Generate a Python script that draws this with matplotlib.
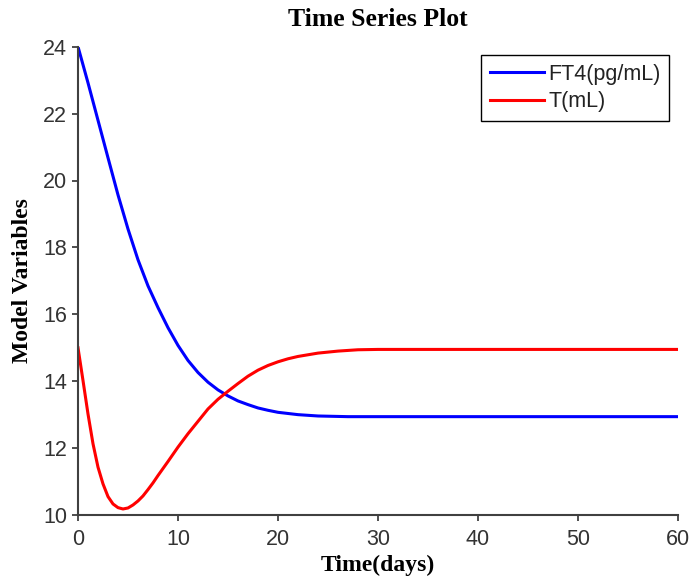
import matplotlib
matplotlib.use("Agg")
import matplotlib.pyplot as plt

# Data
t_ft4 = [0, 1, 2, 3, 4, 5, 6, 7, 8, 9, 10, 11, 12, 13, 14, 15, 16, 17, 18, 19, 20, 22, 24, 27, 30, 40, 50, 60]
ft4 = [24.0, 22.92, 21.8, 20.68, 19.57, 18.55, 17.63, 16.85, 16.2, 15.6, 15.07, 14.62, 14.26, 13.97, 13.74,
       13.56, 13.41, 13.3, 13.2, 13.13, 13.07, 13.0, 12.96, 12.94, 12.94, 12.94, 12.94, 12.94]

t_t = [0, 0.5, 1, 1.5, 2, 2.5, 3, 3.5, 4, 4.5, 5, 5.5, 6, 6.5, 7, 7.5, 8, 9, 10, 11, 12, 13, 14, 15, 16,
       17, 18, 19, 20, 21, 22, 24, 26, 28, 30, 40, 50, 60]
tvol = [15.0, 14.02, 13.02, 12.13, 11.43, 10.93, 10.55, 10.33, 10.22, 10.18, 10.21, 10.3, 10.42, 10.57,
        10.76, 10.96, 11.18, 11.6, 12.03, 12.43, 12.8, 13.17, 13.46, 13.7, 13.93, 14.15, 14.33, 14.47,
        14.58, 14.67, 14.74, 14.84, 14.9, 14.94, 14.95, 14.95, 14.95, 14.95]

series_labels = ["FT4(pg/mL)", "T(mL)"]
x_ticks = [0, 10, 20, 30, 40, 50, 60]
y_ticks = [10, 12, 14, 16, 18, 20, 22, 24]

fig = plt.figure(figsize=(6.91, 5.79), dpi=100)
ax = fig.add_axes([78 / 691, 1 - 515 / 579, 600 / 691, (515 - 46.7) / 579])

ax.plot(t_ft4, ft4, color="#0000ff", lw=2.2, label=series_labels[0], solid_joinstyle="round")
ax.plot(t_t, tvol, color="#ff0000", lw=2.2, label=series_labels[1], solid_joinstyle="round")

ax.set_xlim(0, 60)
ax.set_ylim(10, 24)
ax.set_xticks(x_ticks)
ax.set_yticks(y_ticks)

for s in ["top", "right"]:
    ax.spines[s].set_visible(False)
for s in ["left", "bottom"]:
    ax.spines[s].set_color("#404040")
    ax.spines[s].set_linewidth(1.5)

ax.tick_params(axis="both", direction="out", length=4.5, width=1.3, color="#404040",
               labelcolor="#333333", labelsize=15.5)
ax.tick_params(axis="x", pad=5.5)
ax.tick_params(axis="y", pad=3.5)
for lab in ax.get_xticklabels() + ax.get_yticklabels():
    lab.set_fontfamily("Liberation Sans")

title_font = {"family": "Liberation Serif", "weight": "bold", "size": 18.5}
label_font = {"family": "Liberation Serif", "weight": "bold", "size": 17}
ax.text(0.5, (515 - 20) / 468.3, "Time Series Plot", transform=ax.transAxes,
        ha="center", va="center", fontdict=title_font)
ax.set_xlabel("Time(days)", fontdict=label_font)
ax.xaxis.set_label_coords(0.5, (515 - 565) / 468.3)
ax.xaxis.label.set_va("center")
ax.set_ylabel("Model Variables", fontdict=label_font)
ax.yaxis.set_label_coords((23 - 78) / 600, 0.5)
ax.yaxis.label.set_va("center")

leg = ax.legend(loc="upper right", bbox_to_anchor=((669 - 78) / 600, (515 - 55) / 468.3),
                borderaxespad=0, fancybox=False, shadow=False, framealpha=1,
                edgecolor="black", handlelength=2.5, handletextpad=0.2, labelspacing=0.3,
                borderpad=0.4, prop={"family": "Liberation Sans", "size": 15.5})
leg.get_frame().set_linewidth(1.0)
for txt in leg.get_texts():
    txt.set_color("#222222")

fig.savefig("out.png", dpi=100)
